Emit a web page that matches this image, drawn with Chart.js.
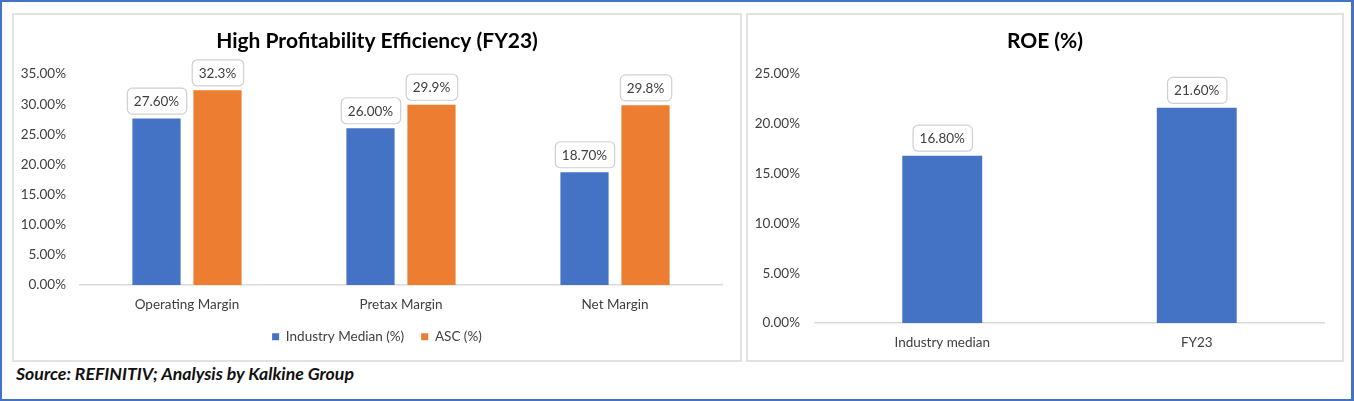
<!DOCTYPE html>
<html>
<head>
<meta charset="utf-8">
<script src="https://cdn.jsdelivr.net/npm/chart.js@4"></script>
<style>
  html, body { margin: 0; padding: 0; background: #fff; }
  #frame { position: absolute; left: 0; top: 0; width: 1354px; height: 401px; box-sizing: border-box;
           border: 2px solid #4472C4; border-right-width: 3px; }
  .panel { position: absolute; box-sizing: border-box; border: 2px solid #E2E2E2; background: #fff; }
  .panel canvas { display: block; }
  #source { position: absolute; left: 16px; top: 364px; line-height: 20px; font-family: Lato, sans-serif; font-weight: 700;
            font-style: italic; font-size: 17.7px; color: #111; white-space: nowrap; }
</style>
</head>
<body>
<div id="frame"></div>
<div class="panel" style="left:12px; top:13px; width:730px; height:349px;">
  <div style="width:726px; height:345px; position:relative;"><canvas id="c1"></canvas></div>
</div>
<div class="panel" style="left:746px; top:13px; width:598px; height:349px;">
  <div style="width:594px; height:345px; position:relative;"><canvas id="c2"></canvas></div>
</div>
<div id="source">Source: REFINITIV; Analysis by Kalkine Group</div>
<script>
// ---- data ----
const marginCategories = ['Operating Margin', 'Pretax Margin', 'Net Margin'];
const industryMedian = [27.6, 26.0, 18.7];
const ascValues = [32.3, 29.9, 29.8];
const roeCategories = ['Industry median', 'FY23'];
const roeValues = [16.8, 21.6];

const FONT = 'Lato, "Noto Sans", sans-serif';
const BLUE = '#4472C4';
const ORANGE = '#ED7D31';

// data label plugin: rounded boxes above bars
const boxLabels = {
  id: 'boxLabels',
  afterDatasetsDraw(chart) {
    const ctx = chart.ctx;
    ctx.save();
    ctx.font = '13.5px ' + FONT;
    ctx.textAlign = 'center';
    ctx.textBaseline = 'middle';
    chart.data.datasets.forEach((ds, di) => {
      const meta = chart.getDatasetMeta(di);
      const dec = ds.labelDecimals;
      meta.data.forEach((bar, i) => {
        const txt = ds.data[i].toFixed(dec) + '%';
        const w = ctx.measureText(txt).width + 14;
        const h = 26;
        const x = bar.x - w / 2;
        const y = bar.y - 5 - h;
        ctx.beginPath();
        ctx.roundRect(x + 0.5, y + 0.5, w, h, 5);
        ctx.fillStyle = '#fff';
        ctx.fill();
        ctx.lineWidth = 1.2;
        ctx.strokeStyle = '#CFCFCF';
        ctx.stroke();
        ctx.fillStyle = '#404040';
        ctx.fillText(txt, bar.x, y + h / 2 + 1);
      });
    });
    ctx.restore();
  }
};

// fix the legend box height so the plot area keeps its place
const legendHeight = {
  id: 'legendHeight',
  beforeLayout(chart, args, opts) {
    const lg = chart.legend;
    if (lg && !lg._fixedFit && opts && opts.height) {
      const orig = lg.fit.bind(lg);
      lg.fit = function () { orig(); this.height = opts.height; };
      lg._fixedFit = true;
    }
  }
};

// center title and legend over the whole canvas width (not the padded area)
const fullWidthCenter = {
  id: 'fullWidthCenter',
  afterLayout(chart) {
    [chart.titleBlock, chart.legend].forEach(b => {
      if (b && b.options && b.options.display !== false) {
        b.left = 0; b.right = chart.width; b.width = chart.width;
      }
    });
  }
};

function pct(v) { return v.toFixed(2) + '%'; }

new Chart(document.getElementById('c1'), {
  type: 'bar',
  data: {
    labels: marginCategories,
    datasets: [
      { label: 'Industry Median (%)', data: industryMedian, backgroundColor: BLUE, labelDecimals: 2,
        categoryPercentage: 0.57, barPercentage: 0.79 },
      { label: 'ASC (%)', data: ascValues, backgroundColor: ORANGE, labelDecimals: 1,
        categoryPercentage: 0.57, barPercentage: 0.79 }
    ]
  },
  options: {
    responsive: true, maintainAspectRatio: false, animation: false,
    layout: { padding: { left: 0, right: 18, top: 0, bottom: 6 } },
    plugins: {
      title: { display: true, text: 'High Profitability Efficiency (FY23)', color: '#000',
               font: { family: FONT, size: 21, weight: 'bold', lineHeight: 1.2 },
               padding: { top: 13.4, bottom: 20.4 } },
      legend: { position: 'bottom',
                labels: { boxWidth: 7, boxHeight: 7, padding: 17, color: '#404040',
                          font: { family: FONT, size: 13.5 } } },
      legendHeight: { height: 41 },
      tooltip: { enabled: false }
    },
    scales: {
      x: {
        grid: { display: false, drawTicks: false },
        border: { display: true, color: '#D9D9D9', width: 1.5 },
        ticks: { color: '#404040', padding: 12, font: { family: FONT, size: 13.5 } },
        afterFit(s) { s.height = 28; }
      },
      y: {
        min: 0, max: 35,
        grid: { display: false, drawTicks: false },
        border: { display: false },
        ticks: { stepSize: 5, color: '#404040', padding: 14, callback: v => pct(v),
                 font: { family: FONT, size: 13.5 } },
        afterFit(s) { s.width = 66; }
      }
    }
  },
  plugins: [boxLabels, legendHeight, fullWidthCenter]
});

new Chart(document.getElementById('c2'), {
  type: 'bar',
  data: {
    labels: roeCategories,
    datasets: [
      { label: 'ROE (%)', data: roeValues, backgroundColor: BLUE, labelDecimals: 2,
        categoryPercentage: 1, barPercentage: 0.314 }
    ]
  },
  options: {
    responsive: true, maintainAspectRatio: false, animation: false,
    layout: { padding: { left: 0, right: 18, top: 0, bottom: 7 } },
    plugins: {
      title: { display: true, text: 'ROE (%)', color: '#000',
               font: { family: FONT, size: 21, weight: 'bold', lineHeight: 1.2 },
               padding: { top: 13.4, bottom: 20.4 } },
      legend: { display: false },
      tooltip: { enabled: false }
    },
    scales: {
      x: {
        grid: { display: false, drawTicks: false },
        border: { display: true, color: '#D9D9D9', width: 1.5 },
        ticks: { color: '#404040', padding: 12, font: { family: FONT, size: 13.5 } },
        afterFit(s) { s.height = 30; }
      },
      y: {
        min: 0, max: 25,
        grid: { display: false, drawTicks: false },
        border: { display: false },
        ticks: { stepSize: 5, color: '#404040', padding: 15, callback: v => pct(v),
                 font: { family: FONT, size: 13.5 } },
        afterFit(s) { s.width = 67; }
      }
    }
  },
  plugins: [boxLabels, fullWidthCenter]
});
</script>
</body>
</html>
